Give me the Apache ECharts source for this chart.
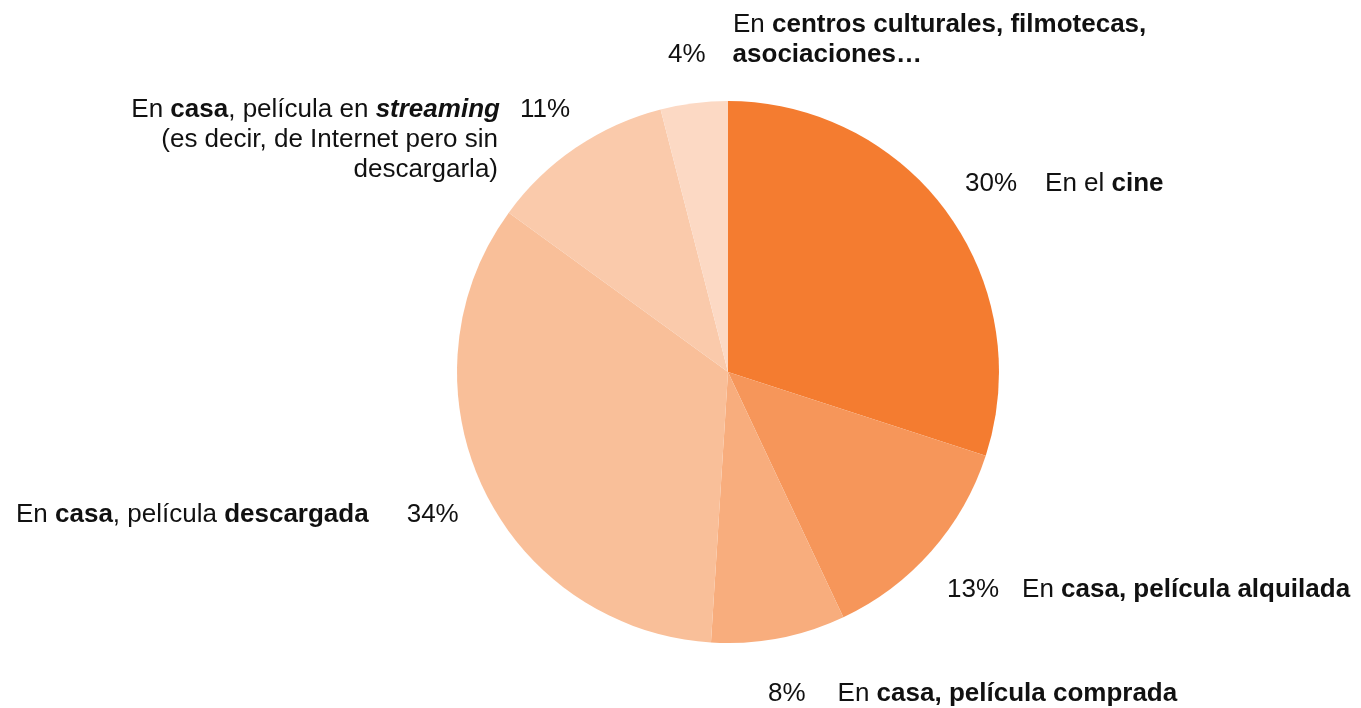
<!DOCTYPE html>
<html>
<head>
<meta charset="utf-8">
<script src="https://cdn.jsdelivr.net/npm/echarts@6/dist/echarts.min.js"></script>
<style>html,body{margin:0;padding:0;background:#fff}#c{width:1361px;height:708px}</style>
</head>
<body>
<div id="c"></div>
<script>
// ---- data ----
const categories = [
  'En el cine',
  'En casa, película alquilada',
  'En casa, película comprada',
  'En casa, película descargada',
  'En casa, película en streaming (es decir, de Internet pero sin descargarla)',
  'En centros culturales, filmotecas, asociaciones…'
];
const values = [30, 13, 8, 34, 11, 4];
// rich-text label markup (%P = percentage)
const labelMarkup = [
  '{p|%P}{g0| }{n|En el }{b|cine}',
  '{p|%P}{g1| }{n|En }{b|casa, película alquilada}',
  '{p|%P}{g2| }{n|En }{b|casa, película comprada}',
  '{n|En }{b|casa}{n|, película }{b|descargada}{g3| }{p|%P}',
  '{nr|En }{br|casa}{nr|, película en }{bir|streaming}{g4| }{pr|%P}\n{nr|(es decir, de Internet pero sin}{g4w| }\n{nr|descargarla)}{g4w| }',
  '{g5w| }{n|En }{b|centros culturales, filmotecas,}\n{p|%P}{g5| }{b|asociaciones…}'
];
const colors = ['#F47C30', '#F6965A', '#F8AD7D', '#F9BF99', '#FACAAB', '#FCD9C4'];

// ---- layout / style ----
const FS = 26, LH = 30, FF = '"Liberation Sans", Arial, sans-serif', TC = '#111';
const labelPos = [
  { x: 965, y: 184, align: 'left' },
  { x: 947, y: 590, align: 'left' },
  { x: 768, y: 694, align: 'left' },
  { x: 16,  y: 515, align: 'left' },
  { x: 570, y: 140, align: 'right' },
  { x: 668, y: 40,  align: 'left' }
];
function st(extra) {
  return Object.assign({ fontSize: FS, fontFamily: FF, color: TC, lineHeight: LH }, extra);
}
const rich = {
  n: st({}), b: st({ fontWeight: 'bold' }), p: st({}),
  nr: st({ align: 'right' }), br: st({ fontWeight: 'bold', align: 'right' }),
  bir: st({ fontWeight: 'bold', fontStyle: 'italic', align: 'right' }),
  pr: st({ align: 'right' }),
  g0: st({ width: 28 }), g1: st({ width: 23 }), g2: st({ width: 32 }),
  g3: st({ width: 38 }), g4: st({ width: 20, align: 'right' }), g4w: st({ width: 72, align: 'right' }),
  g5: st({ width: 27 }), g5w: st({ width: 65 })
};

const chart = echarts.init(document.getElementById('c'), null, { renderer: 'canvas' });
chart.setOption({
  animation: false,
  backgroundColor: '#fff',
  series: [{
    type: 'pie',
    center: [728, 372],
    radius: [0, 271],
    startAngle: 90,
    clockwise: true,
    avoidLabelOverlap: false,
    silent: true,
    itemStyle: { borderWidth: 0 },
    labelLine: { show: false },
    label: {
      show: true,
      position: 'outside',
      fontSize: FS, fontFamily: FF, color: TC, lineHeight: LH,
      formatter: p => labelMarkup[p.dataIndex].replace('%P', p.value + '%'),
      rich: rich
    },
    labelLayout: p => {
      const l = labelPos[p.dataIndex];
      return { x: l.x, y: l.y, align: l.align, verticalAlign: 'middle', hideOverlap: false };
    },
    data: categories.map((c, i) => ({ name: c, value: values[i], itemStyle: { color: colors[i] } }))
  }]
});
</script>
</body>
</html>
